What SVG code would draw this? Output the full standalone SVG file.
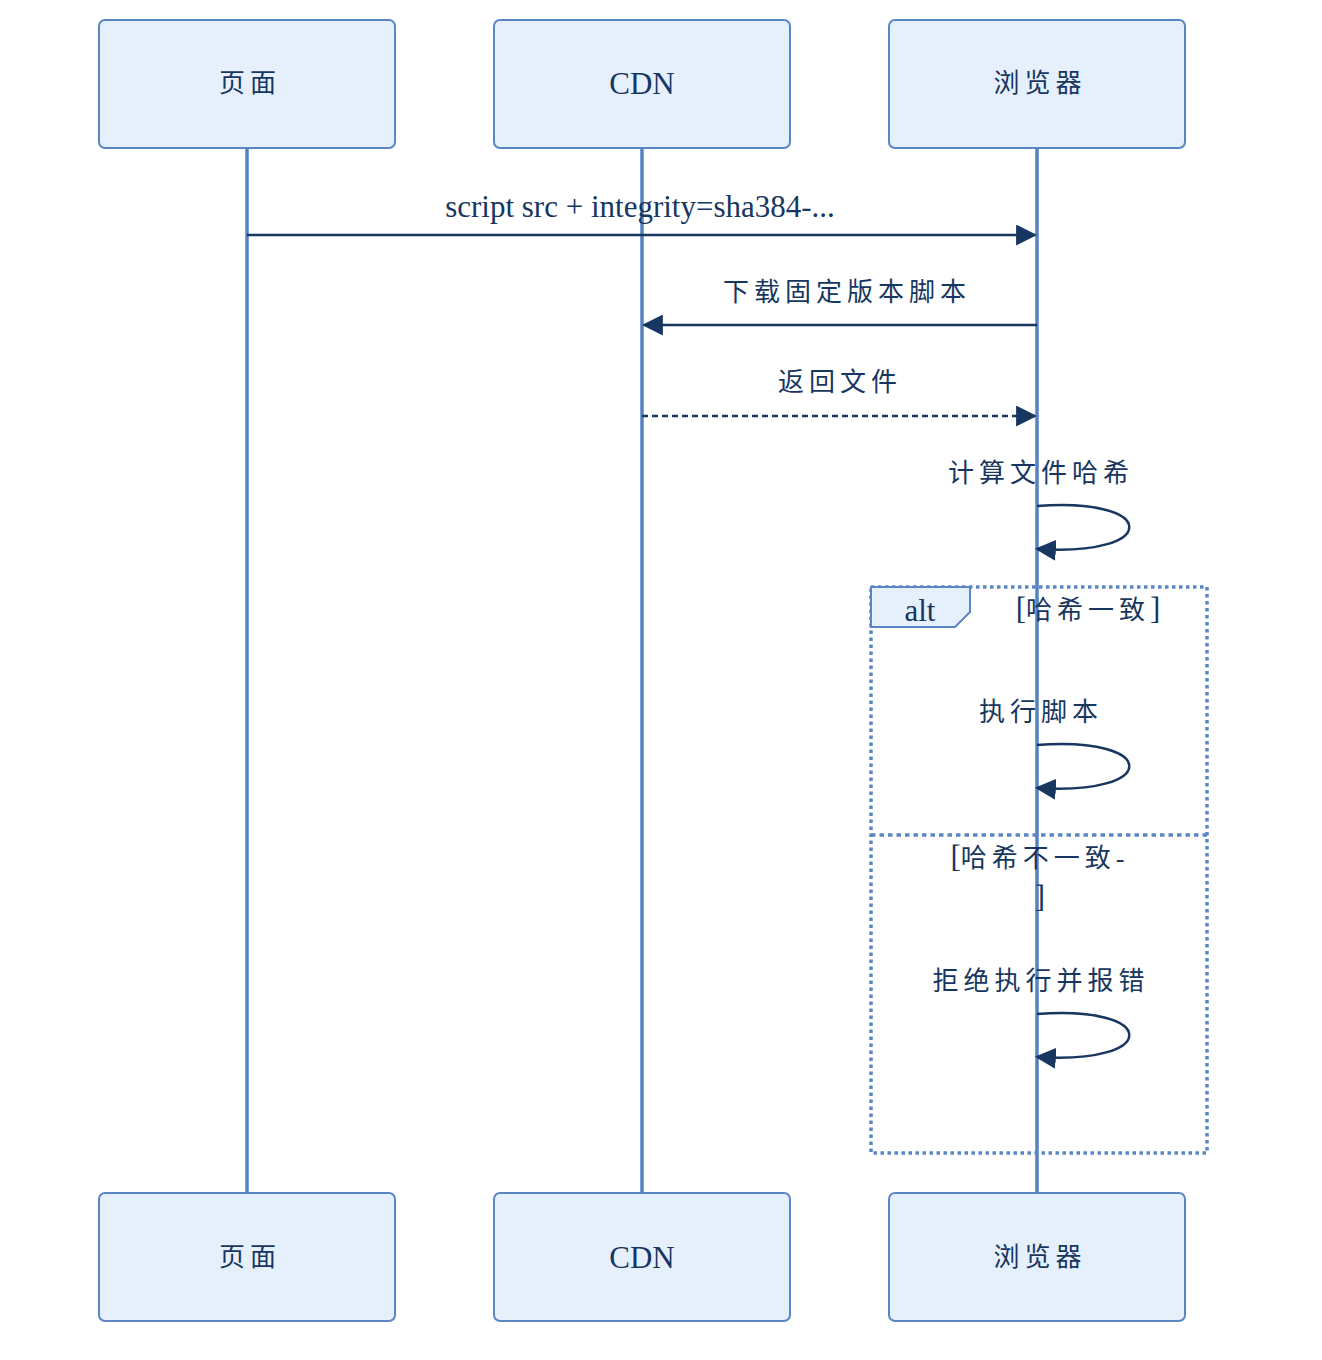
<svg xmlns="http://www.w3.org/2000/svg" width="1322" height="1360" viewBox="0 0 1322 1360">
<defs>
<style>
.box{fill:#e6f0fd;stroke:#5b86c5;stroke-width:2}
.life{stroke:#5583c2;stroke-width:3.5}
.msg{stroke:#173660;stroke-width:2.5;fill:none}
.t{font-family:"Liberation Serif","Noto Sans CJK SC",serif;fill:#173660;text-anchor:middle}
.cn{font-size:26px;letter-spacing:5px}
.en{font-size:31px}
.br{font-size:31px;letter-spacing:0}
.frame{fill:none;stroke:#5b86c5;stroke-width:3.5;stroke-dasharray:3.5 3.5}
</style>
<marker id="ah" viewBox="0 0 10 10" refX="9" refY="5" markerWidth="21" markerHeight="21" markerUnits="userSpaceOnUse" orient="auto">
<path d="M0,0 L10,5 L0,10 z" fill="#173660"/>
</marker>
</defs>
<rect width="1322" height="1360" fill="#fff"/>
<g id="lifelines">
<line class="life" x1="247" y1="148" x2="247" y2="1193"/>
<line class="life" x1="642" y1="148" x2="642" y2="1193"/>
<line class="life" x1="1037" y1="148" x2="1037" y2="1193"/>
</g>
<g id="alt-frame">
<rect class="frame" x="871" y="587" width="336" height="566"/>
<path d="M871,587 H970 V612 L955,627 H871 Z" fill="#e6f0fd" stroke="#5b86c5" stroke-width="2"/>
<text class="t en" x="920" y="621">alt</text>
<text class="t cn" x="1088" y="619"><tspan class="br">[</tspan>哈希一致<tspan class="br">]</tspan></text>
<line x1="871" y1="835" x2="1207" y2="835" stroke="#5b86c5" stroke-width="3.5" stroke-dasharray="4.5 4"/>
<text class="t cn" x="1040" y="867"><tspan class="br">[</tspan>哈希不一致-</text>
<text class="t br" x="1040" y="907">]</text>
</g>
<g id="connectors">
<line class="msg" x1="247" y1="235" x2="1035" y2="235" marker-end="url(#ah)"/>
<text class="t en" x="640" y="217">script src + integrity=sha384-...</text>
<line class="msg" x1="1037" y1="325" x2="644" y2="325" marker-end="url(#ah)"/>
<text class="t cn" x="847" y="301">下载固定版本脚本</text>
<line class="msg" x1="642" y1="416" x2="1035" y2="416" stroke-dasharray="6 4" marker-end="url(#ah)"/>
<text class="t cn" x="840" y="391">返回文件</text>
<path class="msg" d="M1037,506 C1160,497 1160,557 1037,549" marker-end="url(#ah)"/>
<text class="t cn" x="1041" y="482">计算文件哈希</text>
<path class="msg" d="M1037,745 C1160,736 1160,796 1037,788" marker-end="url(#ah)"/>
<text class="t cn" x="1041" y="721">执行脚本</text>
<path class="msg" d="M1037,1014 C1160,1005 1160,1065 1037,1057" marker-end="url(#ah)"/>
<text class="t cn" x="1041" y="990">拒绝执行并报错</text>
</g>
<g id="node-page-top"><rect class="box" x="99" y="20" width="296" height="128" rx="6"/><text class="t cn" x="250" y="92">页面</text></g>
<g id="node-cdn-top"><rect class="box" x="494" y="20" width="296" height="128" rx="6"/><text class="t en" x="642" y="94">CDN</text></g>
<g id="node-browser-top"><rect class="box" x="889" y="20" width="296" height="128" rx="6"/><text class="t cn" x="1040" y="92">浏览器</text></g>
<g id="node-page-bottom"><rect class="box" x="99" y="1193" width="296" height="128" rx="6"/><text class="t cn" x="250" y="1266">页面</text></g>
<g id="node-cdn-bottom"><rect class="box" x="494" y="1193" width="296" height="128" rx="6"/><text class="t en" x="642" y="1268">CDN</text></g>
<g id="node-browser-bottom"><rect class="box" x="889" y="1193" width="296" height="128" rx="6"/><text class="t cn" x="1040" y="1266">浏览器</text></g>
</svg>
